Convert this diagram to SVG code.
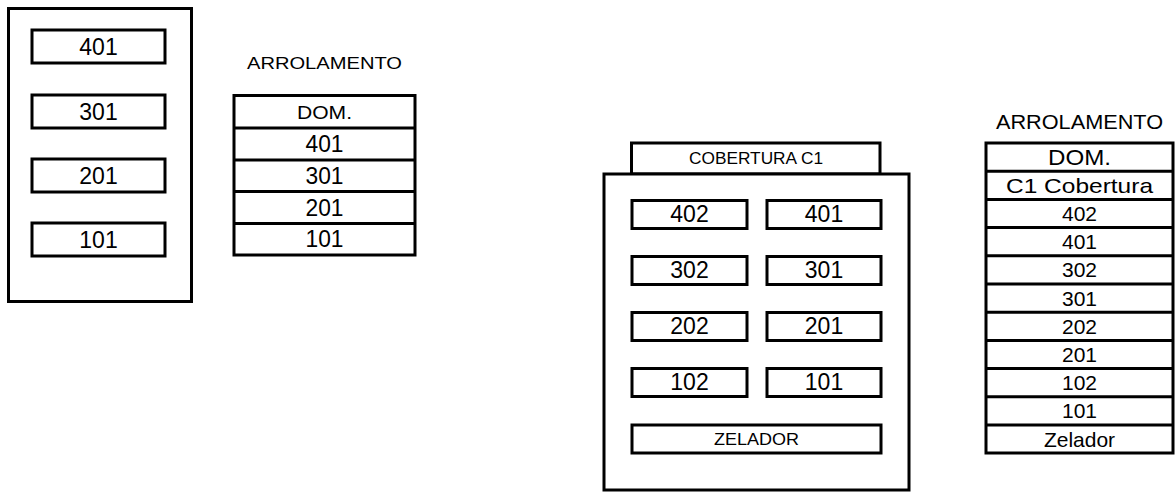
<svg xmlns="http://www.w3.org/2000/svg" width="1175" height="496" viewBox="0 0 1175 496">
<style>
.b{fill:#fff;stroke:#000;stroke-width:3}
.t{font-family:"Liberation Sans",Arial,sans-serif;fill:#000;text-anchor:middle}
.n{font-size:23px}
.r{font-size:21px}
.s{font-size:16px}
.z{font-size:17px}
.line{stroke:#000;stroke-width:3}
</style>
<rect width="1175" height="496" fill="#fff"/>

<g id="building-left">
<rect class="b" x="8.5" y="8.5" width="183" height="293"/>
<g id="apt-l-401"><rect class="b" x="32" y="30" width="133" height="33"/><text class="t n" x="98.5" y="55">401</text></g>
<g id="apt-l-301"><rect class="b" x="32" y="95" width="133" height="33"/><text class="t n" x="98.5" y="120">301</text></g>
<g id="apt-l-201"><rect class="b" x="32" y="159" width="133" height="33"/><text class="t n" x="98.5" y="184">201</text></g>
<g id="apt-l-101"><rect class="b" x="32" y="223" width="133" height="33"/><text class="t n" x="98.5" y="248">101</text></g>
</g>

<g id="table-left">
<text class="t" x="324.5" y="69" font-size="17" textLength="155" lengthAdjust="spacingAndGlyphs">ARROLAMENTO</text>
<rect class="b" x="234" y="95.5" width="181" height="159.5"/>
<line class="line" x1="234" y1="128" x2="415" y2="128"/>
<line class="line" x1="234" y1="160" x2="415" y2="160"/>
<line class="line" x1="234" y1="191.5" x2="415" y2="191.5"/>
<line class="line" x1="234" y1="223.5" x2="415" y2="223.5"/>
<text class="t" x="324.5" y="119" font-size="18" textLength="55" lengthAdjust="spacingAndGlyphs">DOM.</text>
<text class="t" x="324.5" y="152" font-size="24" textLength="38" lengthAdjust="spacingAndGlyphs">401</text>
<text class="t" x="324.5" y="184" font-size="24" textLength="38" lengthAdjust="spacingAndGlyphs">301</text>
<text class="t" x="324.5" y="215.5" font-size="24" textLength="38" lengthAdjust="spacingAndGlyphs">201</text>
<text class="t" x="324.5" y="247" font-size="24" textLength="38" lengthAdjust="spacingAndGlyphs">101</text>
</g>

<g id="building-right">
<g id="cobertura"><rect class="b" x="631.5" y="143" width="248.5" height="31"/><text class="t s" x="756" y="164" textLength="134" lengthAdjust="spacingAndGlyphs">COBERTURA C1</text></g>
<rect class="b" x="604" y="174" width="305" height="316"/>
<g id="apt-r-402"><rect class="b" x="632" y="200.5" width="115" height="28"/><text class="t n" x="689.5" y="222">402</text></g>
<g id="apt-r-401"><rect class="b" x="767" y="200.5" width="114" height="28"/><text class="t n" x="824" y="222">401</text></g>
<g id="apt-r-302"><rect class="b" x="632" y="256.5" width="115" height="28"/><text class="t n" x="689.5" y="278">302</text></g>
<g id="apt-r-301"><rect class="b" x="767" y="256.5" width="114" height="28"/><text class="t n" x="824" y="278">301</text></g>
<g id="apt-r-202"><rect class="b" x="632" y="312.5" width="115" height="28"/><text class="t n" x="689.5" y="334">202</text></g>
<g id="apt-r-201"><rect class="b" x="767" y="312.5" width="114" height="28"/><text class="t n" x="824" y="334">201</text></g>
<g id="apt-r-102"><rect class="b" x="632" y="368.5" width="115" height="28"/><text class="t n" x="689.5" y="390">102</text></g>
<g id="apt-r-101"><rect class="b" x="767" y="368.5" width="114" height="28"/><text class="t n" x="824" y="390">101</text></g>
<g id="zelador"><rect class="b" x="632" y="425" width="249" height="28"/><text class="t z" x="756.5" y="445" textLength="85" lengthAdjust="spacingAndGlyphs">ZELADOR</text></g>
</g>

<g id="table-right">
<text class="t r" x="1079.5" y="129" textLength="167" lengthAdjust="spacingAndGlyphs">ARROLAMENTO</text>
<rect class="b" x="986" y="143" width="187" height="310"/>
<line class="line" x1="986" y1="171.2" x2="1173" y2="171.2"/>
<line class="line" x1="986" y1="199.4" x2="1173" y2="199.4"/>
<line class="line" x1="986" y1="227.6" x2="1173" y2="227.6"/>
<line class="line" x1="986" y1="255.8" x2="1173" y2="255.8"/>
<line class="line" x1="986" y1="284" x2="1173" y2="284"/>
<line class="line" x1="986" y1="312.2" x2="1173" y2="312.2"/>
<line class="line" x1="986" y1="340.4" x2="1173" y2="340.4"/>
<line class="line" x1="986" y1="368.6" x2="1173" y2="368.6"/>
<line class="line" x1="986" y1="396.8" x2="1173" y2="396.8"/>
<line class="line" x1="986" y1="425" x2="1173" y2="425"/>
<text class="t" x="1079.5" y="165" font-size="22" textLength="63" lengthAdjust="spacingAndGlyphs">DOM.</text>
<text class="t r" x="1079.5" y="193" textLength="147" lengthAdjust="spacingAndGlyphs">C1 Cobertura</text>
<text class="t r" x="1079.5" y="221">402</text>
<text class="t r" x="1079.5" y="249.2">401</text>
<text class="t r" x="1079.5" y="277.4">302</text>
<text class="t r" x="1079.5" y="305.6">301</text>
<text class="t r" x="1079.5" y="333.8">202</text>
<text class="t r" x="1079.5" y="362">201</text>
<text class="t r" x="1079.5" y="390.2">102</text>
<text class="t r" x="1079.5" y="418.4">101</text>
<text class="t r" x="1079.5" y="446.6">Zelador</text>
</g>
</svg>
